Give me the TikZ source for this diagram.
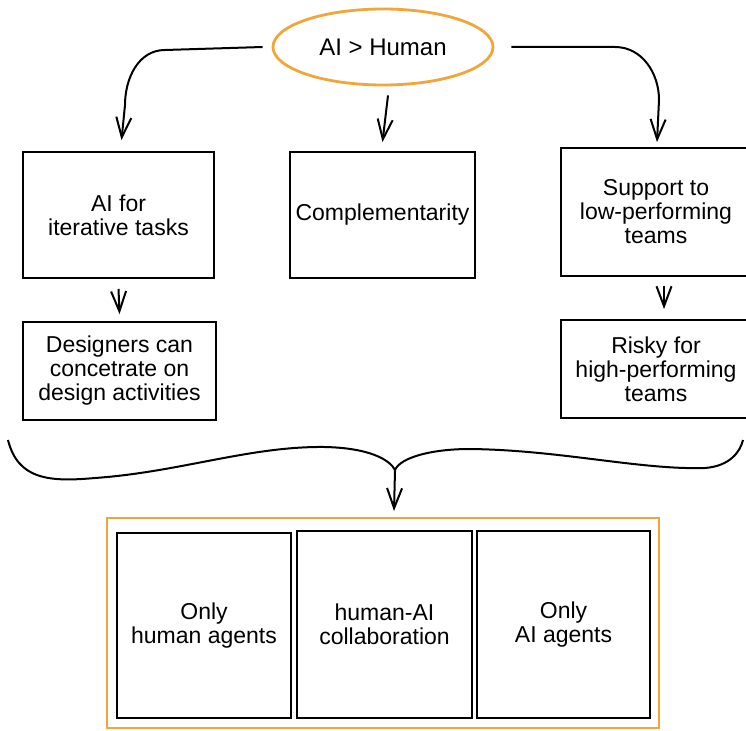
\documentclass[tikz,border=0pt]{standalone}
\usepackage{fontspec}
\setmainfont{Liberation Sans}
\usetikzlibrary{shapes.geometric,arrows.meta}
\definecolor{ideaorange}{RGB}{242,166,58}
\begin{document}
\begin{tikzpicture}[x=1pt,y=-1pt,
    box/.style={draw, line width=1.8pt, align=center, inner sep=2pt,
                font=\fontsize{23}{24}\selectfont},
    flow/.style={line width=2pt, -{Straight Barb[length=20pt,width=15pt,line width=2pt]}},
    brace/.style={line width=2pt}]
  \useasboundingbox (0,0) rectangle (746,730);
  % top idea
  \node[ellipse, draw=ideaorange, line width=2.8pt, minimum width=220pt, minimum height=76pt,
        font=\fontsize{24}{24}\selectfont] (hum) at (383,47) {AI > Human};
  % first row
  \node[box, minimum width=191pt, minimum height=126pt] (iter) at (118.5,215) {AI for\\iterative tasks};
  \node[box, minimum width=185pt, minimum height=126pt] (comp) at (382.5,215) {Complementarity};
  \node[box, minimum width=190pt, minimum height=128pt] (supp) at (656,212) {Support to\\low-performing\\teams};
  % second row
  \node[box, minimum width=193pt, minimum height=98pt] (desi) at (119.5,371) {Designers can\\concetrate on\\design activities};
  \node[box, minimum width=190pt, minimum height=98pt] (risk) at (656,369) {Risky for\\high-performing\\teams};
  % outcome frame
  \node[draw=ideaorange, line width=2pt, minimum width=552pt, minimum height=210pt] (fram) at (383,623) {};
  \node[box, minimum width=174pt, minimum height=185pt] (only) at (204,625.5) {Only\\human agents};
  \node[box, minimum width=175pt, minimum height=187pt] (coll) at (384.5,624.5) {human-AI\\collaboration};
  \node[box, minimum width=173pt, minimum height=187pt] (onai) at (563.5,624.5) {Only\\AI agents};
  % connectors
  \draw[flow] ([xshift=-9pt]hum.west) -- (165,50) to[out=180,in=90] (125,105) -- ([xshift=3pt,yshift=11pt]iter.north);
  \draw[flow] ([xshift=5pt,yshift=-9pt]hum.south) -- ([yshift=9pt]comp.north);
  \draw[flow] ([xshift=17pt]hum.east) -- (615,47) to[out=0,in=90] (659,100) -- ([xshift=1pt,yshift=5pt]supp.north);
  \draw[flow] ([yshift=-10pt]iter.south) -- ([yshift=7pt]desi.north);
  \draw[flow] ([xshift=8pt,yshift=-9pt]supp.south) -- ([xshift=8pt,yshift=10pt]risk.north);
  % brace
  \coordinate (bl) at (8,440);
  \coordinate (bm) at (395,470);
  \coordinate (br) at (743,440);
  \draw[brace] (bl) .. controls (18,480) and (50,482) .. (95,478)
    .. controls (180,472) and (250,446) .. (325,447)
    .. controls (370,448) and (390,460) .. (bm);
  \draw[brace] (bm) .. controls (400,458) and (430,449) .. (470,449)
    .. controls (560,450) and (640,470) .. (705,468)
    .. controls (730,466) and (740,452) .. (br);
  \draw[flow] (bm) -- ([xshift=11pt,yshift=6pt]fram.north);
\end{tikzpicture}
\end{document}
